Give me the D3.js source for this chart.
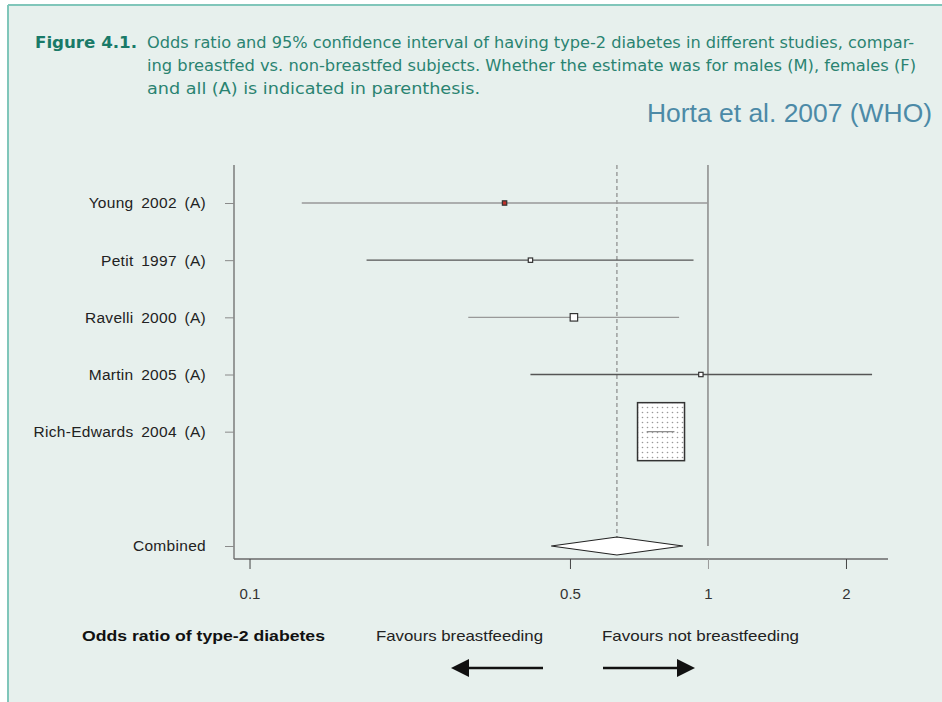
<!DOCTYPE html>
<html>
<head>
<meta charset="utf-8">
<script src="https://cdn.jsdelivr.net/npm/d3@7"></script>
<style>
  body { margin: 0; background: #fff; }
  svg { display: block; }
</style>
</head>
<body>
<svg id="chart" width="942" height="702"></svg>
<script>
// Forest plot: breastfeeding vs type-2 diabetes (Horta et al. 2007)

// study rows, top to bottom
const studies = ["Young 2002 (A)", "Petit 1997 (A)", "Ravelli 2000 (A)", "Martin 2005 (A)", "Rich-Edwards 2004 (A)"];
const oddsRatio = [0.36, 0.41, 0.51, 0.965, 0.79];
const ciLower = [0.13, 0.18, 0.30, 0.41, 0.735];
const ciUpper = [1.00, 0.93, 0.865, 2.28, 0.845];
const weights = [0.55, 0.55, 1.6, 0.55, 96.7];   // % weight, sets box size

// pooled estimate: lower, estimate, upper
const pooledLabel = "Combined";
const pooled = [0.455, 0.633, 0.882];

const xTicks = [0.1, 0.5, 1, 2];

const captionBold = "Figure 4.1.";
const captionLines = [
  "Odds ratio and 95% confidence interval of having type-2 diabetes in different studies, compar-",
  "ing breastfed vs. non-breastfed subjects. Whether the estimate was for males (M), females (F)",
  "and all (A) is indicated in parenthesis."
];
const sourceNote = "Horta et al. 2007 (WHO)";
const xTitle = "Odds ratio of type-2 diabetes";
const favLeft = "Favours breastfeeding";
const favRight = "Favours not breastfeeding";

const svg = d3.select("#chart");
const sans = "'Liberation Sans', Arial, sans-serif";
const capFont = "'DejaVu Sans Condensed', 'DejaVu Sans', sans-serif";

// panel background + teal border (top and left only)
svg.append("rect").attr("x", 8).attr("y", 5).attr("width", 934).attr("height", 697).attr("fill", "#e7f0ed");
svg.append("line").attr("x1", 8).attr("x2", 942).attr("y1", 5).attr("y2", 5).attr("stroke", "#80c6ba").attr("stroke-width", 2);
svg.append("line").attr("x1", 8).attr("x2", 8).attr("y1", 5).attr("y2", 702).attr("stroke", "#80c6ba").attr("stroke-width", 2);

// caption
svg.append("text")
  .attr("x", 35).attr("y", 48)
  .attr("textLength", 102).attr("lengthAdjust", "spacingAndGlyphs")
  .style("font-family", capFont).style("font-size", "16px").style("font-weight", "bold")
  .attr("fill", "#197a68")
  .text(captionBold);

const capWidths = [767, 769, 333];
captionLines.forEach(function(t, i) {
  svg.append("text")
    .attr("x", 147).attr("y", 48 + i * 23)
    .attr("textLength", capWidths[i]).attr("lengthAdjust", "spacingAndGlyphs")
    .style("font-family", capFont).style("font-size", "16px")
    .attr("fill", "#2a8371")
    .text(t);
});

svg.append("text")
  .attr("x", 647).attr("y", 122)
  .attr("textLength", 285).attr("lengthAdjust", "spacingAndGlyphs")
  .style("font-family", sans).style("font-size", "26px")
  .attr("fill", "#4c8aa7")
  .text(sourceNote);

///// scales /////
let x = d3.scaleLog()
  .domain([0.0925, 2.47])
  .range([234, 888]);

let y = d3.scalePoint()
  .domain([...studies, "", pooledLabel])
  .range([203, 546]);

let boxSize = d3.scaleSqrt()
  .domain([0, d3.max(weights)])
  .range([0, 58]);

const g = svg.append("g");

// frame
g.append("line").attr("x1", 234).attr("x2", 234).attr("y1", 165).attr("y2", 559)
  .attr("stroke", "#6a6a6a").attr("stroke-width", 1.3);
g.append("line").attr("x1", 234).attr("x2", 888).attr("y1", 559).attr("y2", 559)
  .attr("stroke", "#6a6a6a").attr("stroke-width", 1.3);

// no-effect line and pooled estimate line
g.append("line")
  .attr("x1", x(1)).attr("x2", x(1)).attr("y1", 165).attr("y2", 546)
  .attr("stroke", "#8a8a8a").attr("stroke-width", 1.5);
g.append("line")
  .attr("x1", x(pooled[1])).attr("x2", x(pooled[1])).attr("y1", 165).attr("y2", y(pooledLabel) - 9)
  .attr("stroke", "#8a8a8a").attr("stroke-width", 1.2).attr("stroke-dasharray", "4,3");

// x axis
const xAxis = g.append("g")
  .attr("transform", "translate(0,559)")
  .call(d3.axisBottom(x).tickValues(xTicks).tickSize(10).tickPadding(19)
    .tickFormat(d3.format("")));
xAxis.select(".domain").remove();
xAxis.selectAll(".tick line").attr("stroke", d => d === 1 ? "#9a9a9a" : "#444");
xAxis.selectAll(".tick text")
  .style("font-family", sans).style("font-size", "15px").attr("fill", "#333");

// y axis
const yAxis = g.append("g")
  .attr("transform", "translate(234,0)")
  .call(d3.axisLeft(y).tickSize(9).tickPadding(19));
yAxis.select(".domain").remove();
yAxis.selectAll(".tick").filter(d => d === "").remove();
yAxis.selectAll(".tick line").attr("stroke", "#8a8a8a");
yAxis.selectAll(".tick text")
  .style("font-family", sans).style("font-size", "15.5px").style("word-spacing", "3px")
  .style("letter-spacing", "0.3px")
  .attr("fill", "#222");

// dotted fill for the weight boxes
const defs = svg.append("defs");
const pat = defs.append("pattern").attr("id", "dots")
  .attr("patternUnits", "userSpaceOnUse").attr("width", 5).attr("height", 5);
pat.append("rect").attr("width", 5).attr("height", 5).attr("fill", "#fff");
pat.append("circle").attr("cx", 2.5).attr("cy", 2.5).attr("r", 0.8).attr("fill", "#999");

const rows = studies.map((s, i) => ({
  name: s, or: oddsRatio[i], lo: ciLower[i], hi: ciUpper[i], w: weights[i], i: i
}));
const boxW = d => d.w > 20 ? boxSize(d.w) * 0.81 : boxSize(d.w);

// confidence intervals
g.selectAll(".ci")
  .data(rows)
  .enter()
  .append("line")
  .attr("class", "ci")
  .attr("x1", d => x(d.lo)).attr("x2", d => x(d.hi))
  .attr("y1", d => y(d.name)).attr("y2", d => y(d.name))
  .attr("stroke", d => d.i % 2 ? "#555" : "#999")
  .attr("stroke-width", 1.4);

// weight boxes
g.selectAll(".box")
  .data(rows)
  .enter()
  .append("rect")
  .attr("class", "box")
  .attr("x", d => x(d.or) - boxW(d) / 2)
  .attr("y", d => y(d.name) - boxSize(d.w) / 2)
  .attr("width", boxW)
  .attr("height", d => boxSize(d.w))
  .attr("fill", d => d.w > 20 ? "url(#dots)" : (d.i === 0 ? "#c0302a" : "#fff"))
  .attr("stroke", "#333")
  .attr("stroke-width", d => d.w > 20 ? 1.5 : 1.2);

// redraw interval on top of the large box
g.selectAll(".ci-top")
  .data(rows.filter(d => d.w > 20))
  .enter()
  .append("line")
  .attr("x1", d => x(d.lo)).attr("x2", d => x(d.hi))
  .attr("y1", d => y(d.name)).attr("y2", d => y(d.name))
  .attr("stroke", "#888").attr("stroke-width", 1.2);

// pooled diamond
const py = y(pooledLabel);
g.append("path")
  .attr("d", `M${x(pooled[0])},${py} L${x(pooled[1])},${py - 9} L${x(pooled[2])},${py} L${x(pooled[1])},${py + 9} Z`)
  .attr("fill", "#fff").attr("stroke", "#222").attr("stroke-width", 1.1);

// bottom labels
svg.append("text").attr("x", 82).attr("y", 641)
  .attr("textLength", 243).attr("lengthAdjust", "spacingAndGlyphs")
  .style("font-family", sans).style("font-size", "15px").style("font-weight", "bold")
  .attr("fill", "#111").text(xTitle);
svg.append("text").attr("x", 376).attr("y", 641)
  .attr("textLength", 167).attr("lengthAdjust", "spacingAndGlyphs")
  .style("font-family", sans).style("font-size", "15px")
  .attr("fill", "#222").text(favLeft);
svg.append("text").attr("x", 602).attr("y", 641)
  .attr("textLength", 197).attr("lengthAdjust", "spacingAndGlyphs")
  .style("font-family", sans).style("font-size", "15px")
  .attr("fill", "#222").text(favRight);

// direction arrows
const ay = 668;
svg.append("line").attr("x1", 466).attr("x2", 543).attr("y1", ay).attr("y2", ay)
  .attr("stroke", "#111").attr("stroke-width", 2.5);
svg.append("path").attr("d", `M451,${ay} L469,${ay - 9} L469,${ay + 9} Z`).attr("fill", "#111");
svg.append("line").attr("x1", 603).attr("x2", 680).attr("y1", ay).attr("y2", ay)
  .attr("stroke", "#111").attr("stroke-width", 2.5);
svg.append("path").attr("d", `M695,${ay} L677,${ay - 9} L677,${ay + 9} Z`).attr("fill", "#111");
</script>
</body>
</html>
